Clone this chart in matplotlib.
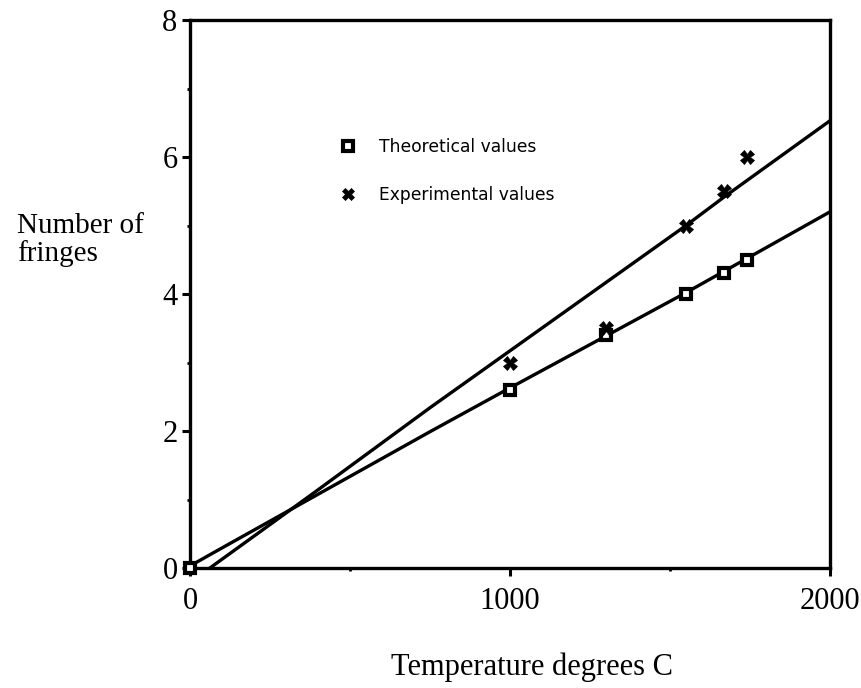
import matplotlib
matplotlib.use('Agg')
from matplotlib import pyplot as plt
from matplotlib.lines import Line2D

# measured points
temps = [1000, 1300, 1550, 1670, 1740]
theoretical = [2.6, 3.4, 4.0, 4.3, 4.5]
experimental = [3.0, 3.5, 5.0, 5.5, 6.0]

# hand-drawn fit lines, read along their length
theory_line_t = [0, 72, 750, 1000, 1550, 2000]
theory_line_n = [0.03, 0.22, 1.99, 2.63, 4.02, 5.2]
exp_line_t = [62, 385, 750, 1550, 1670, 2000]
exp_line_n = [0.0, 1.09, 2.34, 5.0, 5.42, 6.53]

x_ticks = [0, 1000, 2000]
y_ticks = [0, 2, 4, 6, 8]

serif = 'Liberation Serif'
sans = 'DejaVu Sans'

fig = plt.figure(figsize=(8.61, 6.88), dpi=100)
ax = fig.add_axes([0.2207, 0.1744, 0.7433, 0.7965])

ax.plot(theory_line_t, theory_line_n, color='black', lw=2.4)
ax.plot(exp_line_t, exp_line_n, color='black', lw=2.4)
ax.plot([0] + temps, [0] + theoretical, ls='none', marker='s', ms=7.5,
        mfc='white', mec='black', mew=3, clip_on=False, zorder=5)
ax.plot(temps, experimental, ls='none', marker='X', ms=10,
        mfc='black', mec='black', mew=0.5, zorder=5)

ax.set_xlim(0, 2000)
ax.set_ylim(0, 8)
ax.set_xticks(x_ticks)
ax.set_yticks(y_ticks)
ax.set_xticks([500, 1500], minor=True)
ax.set_yticks([1, 3, 5, 7], minor=True)
ax.tick_params(which='major', direction='out', length=6, width=2.2,
               labelsize=22, pad=3)
ax.tick_params(axis='x', which='major', pad=8)
ax.tick_params(which='minor', direction='out', length=2, width=2)
for lab in ax.get_xticklabels() + ax.get_yticklabels():
    lab.set_fontfamily(serif)
for sp in ax.spines.values():
    sp.set_linewidth(2.4)

handles = [
    Line2D([], [], ls='none', marker='s', ms=7.5, mfc='white', mec='black', mew=3),
    Line2D([], [], ls='none', marker='X', ms=9, mfc='black', mec='black', mew=0.5),
]
ax.legend(handles, ['Theoretical values', 'Experimental values'],
          loc='upper left', bbox_to_anchor=(0.212, 0.812), frameon=False,
          handlelength=0.8, handletextpad=1.4, labelspacing=1.75,
          prop={'family': sans, 'size': 12.3})

fig.text(17 / 861, 1 - 240 / 688, 'Number of\nfringes', ha='left', va='center',
         fontsize=21, family=serif, linespacing=1.05)
fig.text(532 / 861, 1 - 667 / 688, 'Temperature degrees C', ha='center',
         va='center', fontsize=22, family=serif)

fig.savefig('out.png', dpi=100)
